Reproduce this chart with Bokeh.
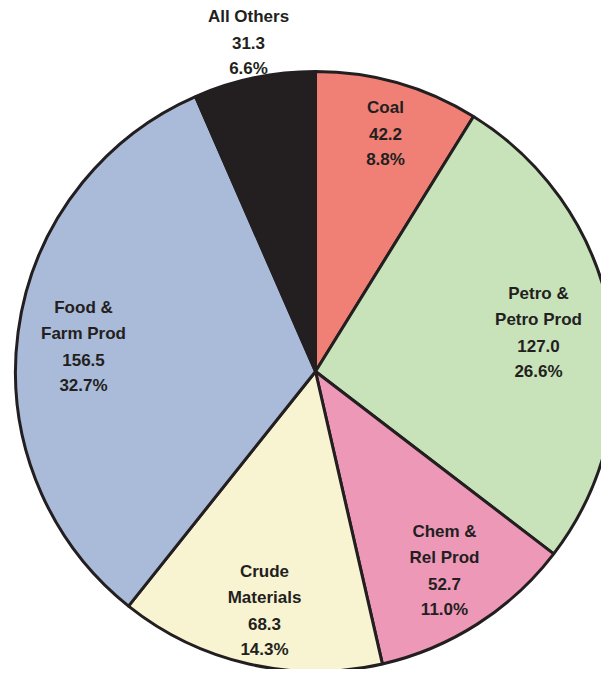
import math
from bokeh.plotting import figure
from bokeh.models import Range1d, ColumnDataSource
from bokeh.core.properties import value
from bokeh.embed import file_html
from bokeh.resources import INLINE

# ---- data ----
categories = ["Coal", "Petro &\nPetro Prod", "Chem &\nRel Prod", "Crude\nMaterials", "Food &\nFarm Prod", "All Others"]
values = [42.2, 127.0, 52.7, 68.3, 156.5, 31.3]
percents = [8.8, 26.6, 11.0, 14.3, 32.7, 6.6]
colors = ["#F08075", "#C8E2BA", "#EE98B8", "#F8F4D2", "#AABAD9", "#231F20"]

# label block anchors (picture pixel coords: x center, y of first line)
label_x = [385, 538, 444, 264, 83, 248]
label_y = [107, 293, 531, 571, 307, 16]
line_gap = 26

TOP = 677
CX, CY, R = 315, 371, 300

total = sum(values)
starts, ends = [], []
cum = 0.0
for v in values:
    a_end = math.pi / 2 - 2 * math.pi * cum / total
    cum += v
    a_start = math.pi / 2 - 2 * math.pi * cum / total
    starts.append(a_start)
    ends.append(a_end)

src = ColumnDataSource(dict(start=starts, end=ends, color=colors))

p = figure(width=601, height=669, output_backend="svg", toolbar_location=None,
           x_range=Range1d(0, 601), y_range=Range1d(TOP - 669, TOP), min_border=0)
p.axis.visible = False
p.grid.visible = False
p.outline_line_color = None
p.background_fill_color = "white"
p.border_fill_color = "white"

p.wedge(x=CX, y=TOP - CY, radius=R, start_angle="start", end_angle="end",
        fill_color="color", line_color="#231F20", line_width=3, source=src)

tx, ty, tt = [], [], []
for cat, v, pc, lx, ly in zip(categories, values, percents, label_x, label_y):
    lines = cat.split("\n") + [f"{v:.1f}", f"{pc:.1f}%"]
    for i, ln in enumerate(lines):
        tx.append(lx)
        ty.append(TOP - (ly + i * line_gap))
        tt.append(ln)

p.text(x=tx, y=ty, text=tt, text_align="center", text_baseline="middle",
       text_font=value("Liberation Sans"), text_font_style="bold",
       text_font_size="17px", text_color="#231F20")

open("out.html", "w").write(file_html(p, INLINE))
